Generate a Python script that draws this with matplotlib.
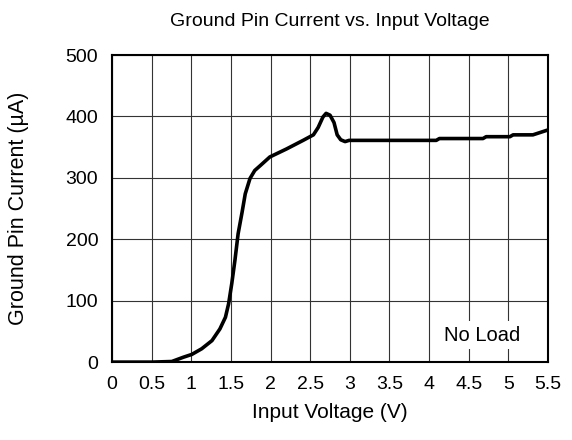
import matplotlib
matplotlib.use("Agg")
import matplotlib.pyplot as plt

plt.rcParams['font.family'] = ['Liberation Sans', 'DejaVu Sans']

voltage = [0.0, 0.5, 0.753, 0.90, 1.005, 1.13, 1.26, 1.36, 1.43, 1.47, 1.51, 1.55, 1.59, 1.64,
           1.68, 1.74, 1.80, 1.87, 1.99, 2.20, 2.41, 2.54, 2.60, 2.66, 2.70, 2.75, 2.80,
           2.84, 2.885, 2.94, 2.99, 4.09, 4.13, 4.68, 4.72, 5.02, 5.06, 5.31, 5.5]
current = [0, 0, 1, 8, 12.5, 21.7, 35, 54, 73, 95, 128, 166, 209, 244,
           274, 299, 312, 320, 334, 347, 361, 370, 382, 399, 405, 402, 390,
           370, 362, 359, 361, 361, 364, 364, 367, 367, 370, 370, 378]
x_ticks = [0, 0.5, 1, 1.5, 2, 2.5, 3, 3.5, 4, 4.5, 5, 5.5]
x_labels = ["0", "0.5", "1", "1.5", "2", "2.5", "3", "3.5", "4", "4.5", "5", "5.5"]
y_ticks = [0, 100, 200, 300, 400, 500]

fig = plt.figure(figsize=(5.72, 4.4), dpi=100)
ax = fig.add_axes([0.196, 0.177, 0.762, 0.698])
ax.plot(voltage, current, color='black', lw=2.6, solid_capstyle='round',
        solid_joinstyle='round', zorder=3)
ax.set_xlim(0, 5.5)
ax.set_ylim(0, 500)
ax.set_xticks(x_ticks)
ax.set_xticklabels(x_labels)
ax.set_yticks(y_ticks)
ax.tick_params(length=0, labelsize=14, pad=10)
ax.grid(True, color='#333333', lw=0.8)
for s in ax.spines.values():
    s.set_linewidth(1.5)
ax.set_xlabel("Input Voltage (V)", fontsize=15, labelpad=7)
ax.set_ylabel("Ground Pin Current (µA)", fontsize=15.5, labelpad=26)
ax.set_title("Ground Pin Current vs. Input Voltage", fontsize=14, pad=21)
ax.text(4.67, 44, "No Load", fontsize=14.5, ha='center', va='center', zorder=4,
        bbox=dict(facecolor='white', edgecolor='none', pad=3))
fig.savefig("out.png", dpi=100)
